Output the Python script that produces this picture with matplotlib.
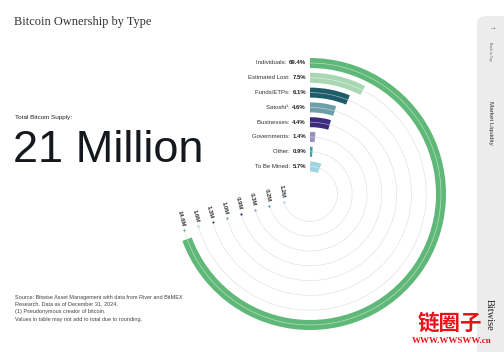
import numpy as np
import matplotlib
matplotlib.use("Agg")
import matplotlib.pyplot as plt
from matplotlib.transforms import offset_copy
from matplotlib.patches import FancyBboxPatch
from matplotlib.colors import to_rgb

# data
categories = ["Individuals", "Estimated Lost", "Funds/ETPs", "Satoshi\u00b9",
              "Businesses", "Governments", "Other", "To Be Mined"]
shares = [69.4, 7.5, 6.1, 4.6, 4.4, 1.4, 0.9, 5.7]
btc_amounts = ["14.6M", "1.6M", "1.3M", "1.0M", "0.9M", "0.3M", "0.2M", "1.2M"]
colors = ["#5fb878", "#a9d7b3", "#1d5c68", "#6d9fa9",
          "#3b2b7e", "#9a8fc4", "#3fa1b4", "#9fd4e0"]

plt.rcParams['font.family'] = ['Liberation Sans', 'DejaVu Sans']
W, H = 504, 352
fig = plt.figure(figsize=(W / 100, H / 100), dpi=100)
fig.patch.set_facecolor('white')

# polar axes: centre at (310, 194) px, radius 140 px -> r in pixel units
cx, cy, R = 310, 194, 140
ax = fig.add_axes([(cx - R) / W, (H - cy - R) / H, 2 * R / W, 2 * R / H],
                  projection='polar')
ax.set_theta_zero_location('N')
ax.set_theta_direction(-1)
ax.set_ylim(0, R)
ax.axis('off')

radii = [131 - 14.8 * i for i in range(len(categories))]
dot_angle = np.deg2rad(254)
track = np.linspace(0, dot_angle, 400)
for r in radii:
    ax.plot(track, np.full_like(track, r), color='#e2e2e2', lw=0.5, zorder=1)

renderer = fig.canvas.get_renderer()
for name, pct, amt, c, r in zip(categories, shares, btc_amounts, colors, radii):
    span = np.deg2rad(pct * 3.6)
    ax.barh(r, span, left=0, height=10, color=c, zorder=2)
    light = tuple(0.45 * np.array(to_rgb(c)) + 0.55)
    arc = np.linspace(0, span, 200)
    ax.plot(arc, np.full_like(arc, r), color=light, lw=0.5, zorder=3)

    # labels at the start of each bar
    t = ax.text(0, r, f"{pct}%", ha='right', va='center', fontsize=4.3,
                fontweight='bold', color='#222222',
                transform=offset_copy(ax.transData, x=-4, y=0, units='dots'))
    w = t.get_window_extent(renderer).width
    ax.text(0, r, f"{name}: ", ha='right', va='center', fontsize=4.3,
            color='#333333',
            transform=offset_copy(ax.transData, x=-4 - w - 1, y=0, units='dots'))

    # BTC amounts past the end of the big ring
    ax.scatter([dot_angle], [r], s=2.5, color=c, zorder=4, linewidths=0)
    ta = dot_angle + 4.0 / r
    ax.text(ta, r, amt, ha='right', va='center', fontsize=4.2,
            fontweight='bold', color='#333333',
            rotation=180 - np.rad2deg(ta), rotation_mode='anchor')

# left-hand text
fig.text(14 / W, 1 - 22 / H, "Bitcoin Ownership by Type", fontsize=8.9,
         family='Liberation Serif', color='#333333', va='center')
fig.text(15 / W, 1 - 117 / H, "Total Bitcoin Supply:", fontsize=4.6,
         color='#222222', va='center')
fig.text(13 / W, 1 - 151 / H, "21 Million", fontsize=32.5,
         color='#15181c', va='center')

notes = ["Source: Bitwise Asset Management with data from River and BitMEX",
         "Research. Data as of December 31, 2024.",
         "(1) Pseudonymous creator of bitcoin.",
         "Values in table may not add to total due to rounding."]
note_y = [297, 304, 312, 320]
for s, y in zip(notes, note_y):
    fig.text(15 / W, 1 - y / H, s, fontsize=4.0, color='#444444', va='center')

# side bar
panel = FancyBboxPatch((477 / W, -0.05), 40 / W, (H - 16) / H + 0.05,
                       boxstyle="round,pad=0,rounding_size=0.02",
                       transform=fig.transFigure, facecolor='#ececec',
                       edgecolor='none')
fig.patches.append(panel)
fig.text(490 / W, 1 - 51 / H, "Back to Top", fontsize=2.6, rotation=-90,
         ha='center', va='center', color='#666666')
fig.text(490 / W, 1 - 123 / H, "Market Liquidity", fontsize=4.5, rotation=-90,
         ha='center', va='center', color='#333333')
fig.text(489 / W, 1 - 315 / H, "Bitwise", fontsize=7.5, rotation=-90,
         ha='center', va='center', color='#222222', family='Liberation Serif')
fig.text(490 / W, 1 - 28 / H, "\u2191", fontsize=4, rotation=-90,
         ha='center', va='center', color='#888888', family='DejaVu Sans')

# watermark
fig.text(450 / W, 1 - 323 / H, "链圈子", fontsize=15.5, color='#e8141b',
         ha='center', va='center', family=['Noto Sans CJK SC', 'DejaVu Sans'],
         fontweight='bold')
fig.text(452 / W, 1 - 341 / H, "WWW.WWSWW.cn", fontsize=6.5, color='#e8141b',
         ha='center', va='center', family='Liberation Serif', fontweight='bold')

fig.savefig("out.png", dpi=100, facecolor='white')
